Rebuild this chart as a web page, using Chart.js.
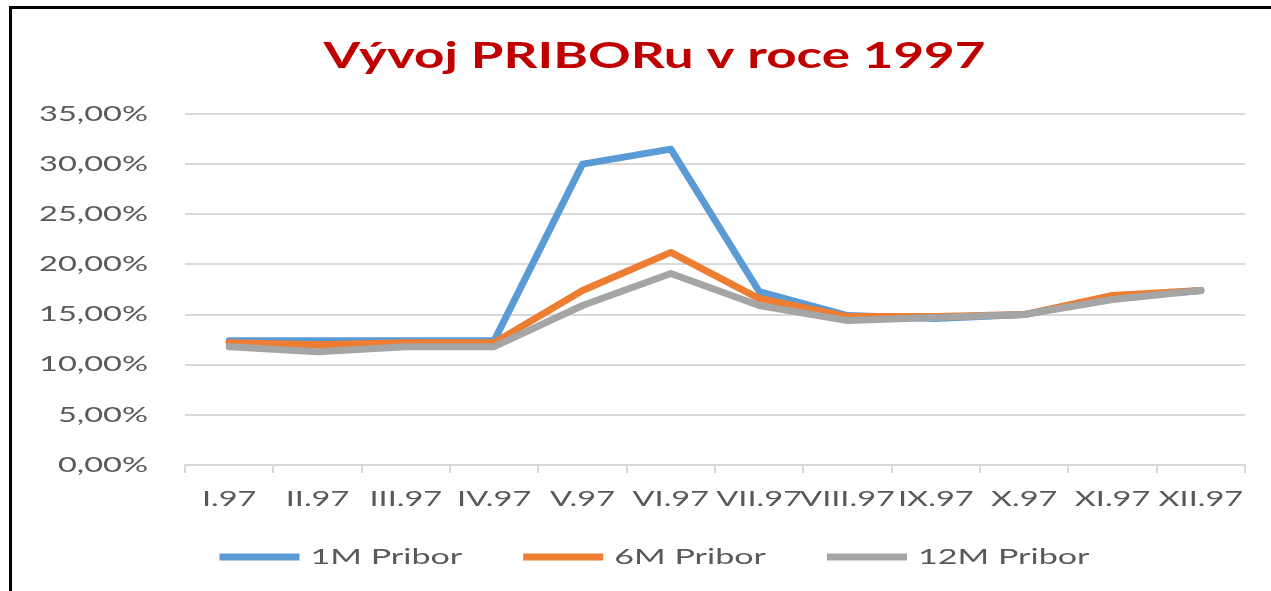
<!DOCTYPE html>
<html>
<head>
<meta charset="utf-8">
<script src="https://cdn.jsdelivr.net/npm/chart.js@4/dist/chart.umd.min.js"></script>
<style>
  html, body { margin: 0; padding: 0; background: #ffffff; }
  #wrap { position: relative; width: 1271px; height: 591px; overflow: hidden; background: #ffffff; }
  #frame { position: absolute; left: 9px; top: 6px; width: 1300px; height: 620px; border-left: 3px solid #000; border-top: 3px solid #000; box-sizing: border-box; pointer-events: none; }
  canvas { position: absolute; left: 0; top: 0; }
</style>
</head>
<body>
<div id="wrap">
  <canvas id="c" width="1271" height="591"></canvas>
  <div id="frame"></div>
</div>
<script>
const titleText = 'Vývoj PRIBORu v roce 1997';
const categories = ['I.97', 'II.97', 'III.97', 'IV.97', 'V.97', 'VI.97', 'VII.97', 'VIII.97', 'IX.97', 'X.97', 'XI.97', 'XII.97'];
const seriesNames = ['1M Pribor', '6M Pribor', '12M Pribor'];
const pribor1M = [12.4, 12.4, 12.4, 12.4, 30.0, 31.5, 17.3, 14.9, 14.6, 15.0, 16.7, 17.4];
const pribor6M = [12.2, 12.0, 12.2, 12.2, 17.4, 21.2, 16.6, 14.8, 14.8, 15.0, 16.9, 17.4];
const pribor12M = [11.8, 11.3, 11.8, 11.8, 15.9, 19.1, 15.9, 14.4, 14.7, 15.0, 16.5, 17.4];
const yMin = 0, yMax = 35, yStep = 5;

const canvas = document.getElementById('c');
const ctx = canvas.getContext('2d');

// The original's lettering is stretched horizontally; draw text with a horizontal scale.
const proto = CanvasRenderingContext2D.prototype;
function stretchFor(c) {
  const f = proto.__lookupGetter__('font').call(c);
  return /bold|\b[6-9]00\b/.test(f) ? 1.43 : 1.55;
}
ctx.fillText = function (text, x, y, maxWidth) {
  const sx = stretchFor(this);
  this.save();
  this.translate(x, y);
  this.scale(sx, 1);
  if (maxWidth === undefined) proto.fillText.call(this, text, 0, 0);
  else proto.fillText.call(this, text, 0, 0, maxWidth / sx);
  this.restore();
};
ctx.measureText = function (text) {
  const m = proto.measureText.call(this, text);
  const sx = stretchFor(this);
  return {
    width: m.width * sx,
    actualBoundingBoxAscent: m.actualBoundingBoxAscent,
    actualBoundingBoxDescent: m.actualBoundingBoxDescent,
    actualBoundingBoxLeft: m.actualBoundingBoxLeft * sx,
    actualBoundingBoxRight: m.actualBoundingBoxRight * sx,
    fontBoundingBoxAscent: m.fontBoundingBoxAscent,
    fontBoundingBoxDescent: m.fontBoundingBoxDescent
  };
};
// let tick labels extend past their axis box (no label clipping)
if (Chart.Scale && Chart.Scale.prototype._computeLabelArea) {
  Chart.Scale.prototype._computeLabelArea = function () { return undefined; };
}

const FONT = "Lato, 'Open Sans', sans-serif";
const colors = ['#5B9BD5', '#ED7D31', '#A5A5A5'];
const seriesData = [pribor1M, pribor6M, pribor12M];

new Chart(ctx, {
  type: 'line',
  data: {
    labels: categories,
    datasets: seriesNames.map((name, i) => ({
      label: name,
      data: seriesData[i],
      borderColor: colors[i],
      backgroundColor: colors[i],
      borderWidth: 7,
      borderCapStyle: 'round',
      borderJoinStyle: 'round',
      pointRadius: 0,
      pointHoverRadius: 0,
      tension: 0,
      fill: false,
      order: 3 - i
    }))
  },
  options: {
    responsive: false,
    animation: false,
    layout: { padding: { left: 64, right: 26, top: 0, bottom: 13 } },
    plugins: {
      title: {
        display: true,
        text: titleText,
        color: '#C00000',
        font: { family: FONT, size: 37, weight: 'bold', lineHeight: 1.2 },
        padding: { top: 34, bottom: 35.6 }
      },
      legend: {
        display: true,
        position: 'bottom',
        labels: {
          usePointStyle: true,
          pointStyle: 'line',
          pointStyleWidth: 80,
          padding: 61,
          color: '#595959',
          font: { family: FONT, size: 22 },
          sort: (a, b) => a.datasetIndex - b.datasetIndex
        }
      },
      tooltip: { enabled: false }
    },
    scales: {
      x: {
        offset: true,
        afterFit: (s) => { s.height = 20; },
        grid: { drawOnChartArea: false, drawTicks: true, tickLength: 8, color: '#D9D9D9', lineWidth: 2, offset: true },
        border: { display: true, color: '#D9D9D9', width: 2 },
        ticks: { color: '#595959', font: { family: FONT, size: 21 }, padding: 14, maxRotation: 0, minRotation: 0, autoSkip: false }
      },
      y: {
        min: yMin,
        max: yMax,
        afterFit: (s) => { s.width = 121; },
        grid: { color: '#D9D9D9', lineWidth: 2, drawTicks: false },
        border: { display: false },
        ticks: {
          stepSize: yStep,
          color: '#595959',
          font: { family: FONT, size: 21 },
          padding: 37,
          callback: (v) => v.toFixed(2).replace('.', ',') + '%'
        }
      }
    }
  }
});
</script>
</body>
</html>
